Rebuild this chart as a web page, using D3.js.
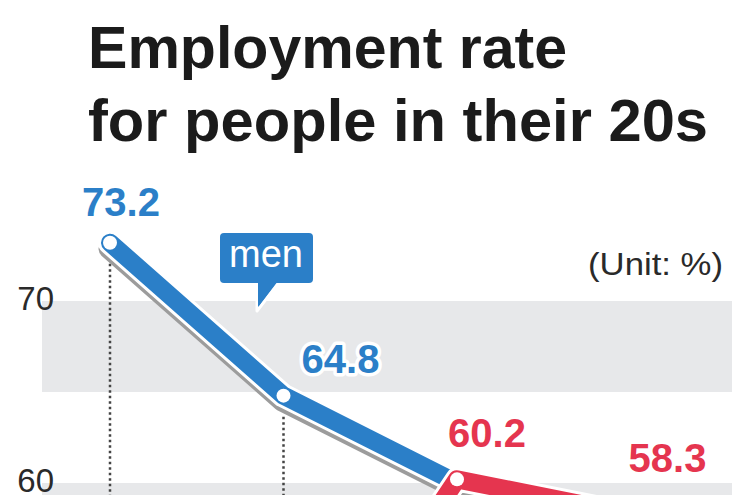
<!DOCTYPE html>
<html>
<head>
<meta charset="utf-8">
<script src="https://cdn.jsdelivr.net/npm/d3@7"></script>
<style>
  html, body { margin: 0; padding: 0; background: #fff; }
  svg { display: block; font-family: "Liberation Sans", Arial, Helvetica, sans-serif; }
</style>
</head>
<body>
<svg id="chart" width="750" height="495"></svg>
<script>
// ---- data ----
const categories = ["P1", "P2", "P3", "P4"];
const menValues = [73.2, 64.8, 60.0, 55.5];
const womenValues = [44.0, 46.0, 60.2, 58.3];
const yTicks = [60, 70];
const bandRanges = [[65, 70], [55, 60]];
const titleLines = ["Employment rate", "for people in their 20s"];
const unitLabel = "(Unit: %)";
const menLabel = "men";

// labels shown for points: [series, index]
const shownLabels = [
  { series: "men", i: 0, dx: 11, dy: -27, halo: false },
  { series: "men", i: 1, dx: 57, dy: -23, halo: true },
  { series: "women", i: 2, dx: 30, dy: -32, halo: false },
  { series: "women", i: 3, dx: 37, dy: -42, halo: false }
];

const BLUE = "#2b7fc8";
const RED = "#e5354f";

const svg = d3.select("#chart");
const W = 750, H = 495;

const x = d3.scalePoint().domain(categories).range([110, 630.5]);
const y = d3.scaleLinear().domain([60, 70]).range([483, 301]);

// ---- title ----
const title = svg.append("g");
titleLines.forEach((t, i) => {
  title.append("text")
    .attr("x", 88).attr("y", 68 + i * 73)
    .attr("font-size", 60).attr("font-weight", "bold")
    .attr("fill", "#1b1b1b")
    .attr("textLength", i === 0 ? 479 : 620)
    .attr("lengthAdjust", "spacingAndGlyphs")
    .text(t);
});

// ---- grid bands ----
svg.append("g").selectAll("rect").data(bandRanges).join("rect")
  .attr("x", 42).attr("width", 732 - 42)
  .attr("y", d => y(d[1]))
  .attr("height", d => y(d[0]) - y(d[1]))
  .attr("fill", "#e7e8ea");

// ---- y tick labels ----
svg.append("g").selectAll("text").data(yTicks).join("text")
  .attr("x", 54).attr("y", d => Math.min(y(d) + 9, 492))
  .attr("text-anchor", "end")
  .attr("font-size", 33).attr("fill", "#2a2a2a")
  .text(d => d);

// ---- unit ----
svg.append("text")
  .attr("x", 723).attr("y", 275).attr("text-anchor", "end")
  .attr("font-size", 32).attr("fill", "#2a2a2a")
  .attr("textLength", 135).attr("lengthAdjust", "spacingAndGlyphs")
  .text(unitLabel);

// ---- dotted drop lines (men points 1, 2) ----
svg.append("g").selectAll("line").data([0, 1]).join("line")
  .attr("x1", i => x(categories[i])).attr("x2", i => x(categories[i]))
  .attr("y1", i => y(menValues[i]) + 21).attr("y2", H + 5)
  .attr("stroke", "#444").attr("stroke-width", 2.5)
  .attr("stroke-dasharray", "2.5,3");

// ---- men callout ----
const callout = svg.append("g");
callout.append("path")
  .attr("d", "M257,281 L257,311 L280,281 Z")
  .attr("fill", BLUE).attr("stroke", "#fff").attr("stroke-width", 3)
  .attr("stroke-linejoin", "round");
callout.append("rect")
  .attr("x", 220).attr("y", 233).attr("width", 93).attr("height", 50)
  .attr("rx", 4).attr("fill", BLUE);
callout.append("path")
  .attr("d", "M258,280 L258,307 L278,280 Z").attr("fill", BLUE);
callout.append("text")
  .attr("x", 266).attr("y", 267).attr("text-anchor", "middle")
  .attr("font-size", 38).attr("fill", "#fff")
  .text(menLabel);

// ---- series ----
const line = d3.line().x((d, i) => x(categories[i])).y(d => y(d));

function drawSeries(values, color) {
  const g = svg.append("g");
  g.append("path").attr("d", line(values))
    .attr("transform", "translate(-2,6)")
    .attr("fill", "none").attr("stroke", "#9c9c9c").attr("stroke-width", 19)
    .attr("stroke-linejoin", "round").attr("stroke-linecap", "round");
  g.append("path").attr("d", line(values))
    .attr("fill", "none").attr("stroke", "#fff").attr("stroke-width", 24)
    .attr("stroke-linejoin", "round").attr("stroke-linecap", "round");
  g.append("path").attr("d", line(values))
    .attr("fill", "none").attr("stroke", color).attr("stroke-width", 18)
    .attr("stroke-linejoin", "round").attr("stroke-linecap", "round");
  g.selectAll("circle").data(values).join("circle")
    .attr("cx", (d, i) => x(categories[i])).attr("cy", d => y(d))
    .attr("r", 7).attr("fill", "#fff");
}
drawSeries(menValues, BLUE);
drawSeries(womenValues, RED);

// ---- value labels ----
svg.append("g").selectAll("text").data(shownLabels).join("text")
  .attr("x", d => x(categories[d.i]) + d.dx)
  .attr("y", d => y((d.series === "men" ? menValues : womenValues)[d.i]) + d.dy)
  .attr("text-anchor", "middle")
  .attr("font-size", 40).attr("font-weight", "bold")
  .attr("fill", d => d.series === "men" ? BLUE : RED)
  .attr("stroke", d => d.halo ? "#fff" : "none")
  .attr("stroke-width", 7).attr("stroke-linejoin", "round")
  .attr("paint-order", "stroke")
  .text(d => (d.series === "men" ? menValues : womenValues)[d.i].toFixed(1));
</script>
</body>
</html>
